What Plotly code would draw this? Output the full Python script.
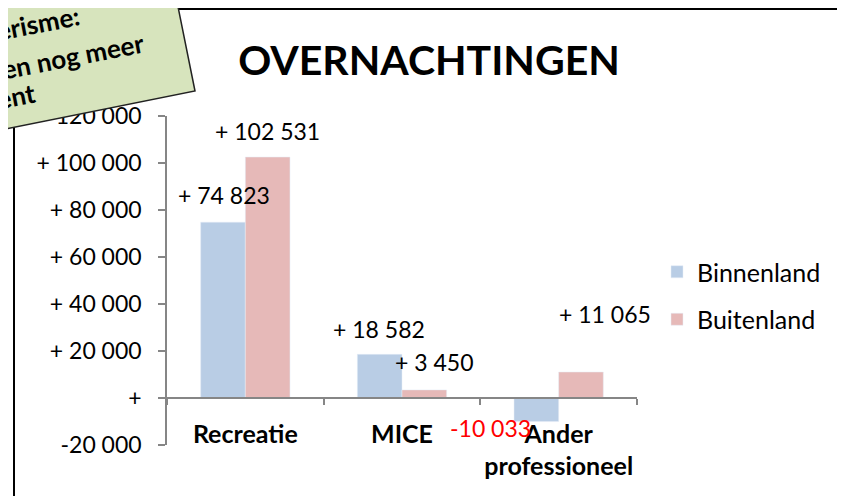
import plotly.graph_objects as go

categories = ["Recreatie", "MICE", "Ander<br>professioneel"]
binnenland = [74823, 18582, -10033]
buitenland = [102531, 3450, 11065]
y_tickvals = [120000, 100000, 80000, 60000, 40000, 20000, 0, -20000]
y_ticktext = ["+ 120 000", "+ 100 000", "+ 80 000", "+ 60 000", "+ 40 000", "+ 20 000", "+", "-20 000"]
note_lines = ["erisme:", "en nog meer", "ent"]

# label offsets (pixels) relative to category centre / bar end
bin_dx = [-21, -23, -68]
bin_dy = [27, 25, -6]
bui_dx = [22, 32, 46]
bui_dy = [26, 28, 58]

OFF = 8  # page body margin
W, H = 845 - OFF, 496 - OFF
L, R, T, B = 167 - OFF, 637 - OFF, 116 - OFF, 445 - OFF


def px2paper(px, py):
    # px, py in page pixels
    px -= OFF
    py -= OFF
    return (px - L) / (R - L), (B - py) / (B - T)


def fmt(v):
    s = f"{abs(v):,}".replace(",", " ")
    return ("+ " + s) if v >= 0 else "-" + s


FONT = "Lato"
BLUE = "#B9CDE5"
PINK = "#E6B9B8"
AX = "#868686"

fig = go.Figure()
fig.add_trace(go.Bar(x=categories, y=binnenland, name="Binnenland", marker_color=BLUE, legendgroup="a"))
fig.add_trace(go.Bar(x=categories, y=buitenland, name="Buitenland", marker_color=PINK, legendgroup="b"))

annotations = []
for i, c in enumerate(categories):
    v = binnenland[i]
    annotations.append(dict(x=c, y=v, xref="x", yref="y", text=fmt(v), showarrow=False,
                            xshift=bin_dx[i], yshift=bin_dy[i],
                            font=dict(family=FONT, size=23, color="red" if v < 0 else "black")))
    v = buitenland[i]
    annotations.append(dict(x=c, y=v, xref="x", yref="y", text=fmt(v), showarrow=False,
                            xshift=bui_dx[i], yshift=bui_dy[i],
                            font=dict(family=FONT, size=23, color="red" if v < 0 else "black")))

# sticky note text
note_pos = [(38, 23), (73, 56), (16, 96)]
for txt, (px, py) in zip(note_lines, note_pos):
    xp, yp = px2paper(px, py)
    annotations.append(dict(x=xp, y=yp, xref="paper", yref="paper", text="<b>" + txt + "</b>",
                            showarrow=False, textangle=-11, xanchor="center", yanchor="middle",
                            font=dict(family=FONT, size=26, color="black")))

pts = [(-300, 66), (171, -28), (195, 91), (-300, 190)]
pp = [px2paper(*p) for p in pts]
path = "M " + " L ".join(f"{x},{y}" for x, y in pp) + " Z"

bx0, by0 = px2paper(14, 9)
bx1, by1 = px2paper(843, 505)

shapes = [
    dict(type="rect", xref="paper", yref="paper", x0=bx0, y0=by0, x1=bx1, y1=by1,
         line=dict(color="black", width=2), fillcolor="rgba(0,0,0,0)", layer="below"),
    dict(type="path", xref="paper", yref="paper", path=path, fillcolor="#D7E4BD",
         line=dict(color="#222222", width=1.5), layer="above"),
]

fig.update_layout(
    width=W, height=H,
    margin=dict(l=L, r=W - R, t=T, b=H - B, pad=0, autoexpand=False),
    paper_bgcolor="white", plot_bgcolor="white",
    barmode="group", bargap=0.43, bargroupgap=0,
    font=dict(family=FONT, size=23, color="black"),
    title=dict(text="<b>OVERNACHTINGEN</b>", x=(429 - OFF) / W, y=1 - (61 - OFF) / H,
               xanchor="center", yanchor="middle",
               xref="container", yref="container", font=dict(family=FONT, size=41, color="black")),
    legend=dict(x=(657 - OFF - L) / (R - L), y=(B - (249 - OFF)) / (B - T), xanchor="left", yanchor="top",
                font=dict(family=FONT, size=25), tracegroupgap=12, itemwidth=30,
                bgcolor="rgba(0,0,0,0)"),
    xaxis=dict(type="category", anchor="free", position=20000 / 140000, range=[-0.5, 2.5],
               showline=True, linecolor=AX, linewidth=1.5, tickangle=0, automargin=False,
               ticks="outside", tickson="boundaries", ticklen=6, tickcolor=AX, tickwidth=1.5,
               tickfont=dict(family=FONT, size=25, color="black", weight="bold"),
               ticklabelstandoff=14, showgrid=False, zeroline=False),
    yaxis=dict(range=[-20000, 120000], tickvals=y_tickvals, ticktext=y_ticktext, automargin=False,
               showline=True, linecolor=AX, linewidth=1.5, ticks="outside", ticklen=7,
               tickcolor=AX, tickwidth=1.5, ticklabelstandoff=12, showgrid=False, zeroline=False,
               tickfont=dict(family=FONT, size=23, color="black")),
    annotations=annotations, shapes=shapes, showlegend=True,
)

fig.write_html("out.html")
